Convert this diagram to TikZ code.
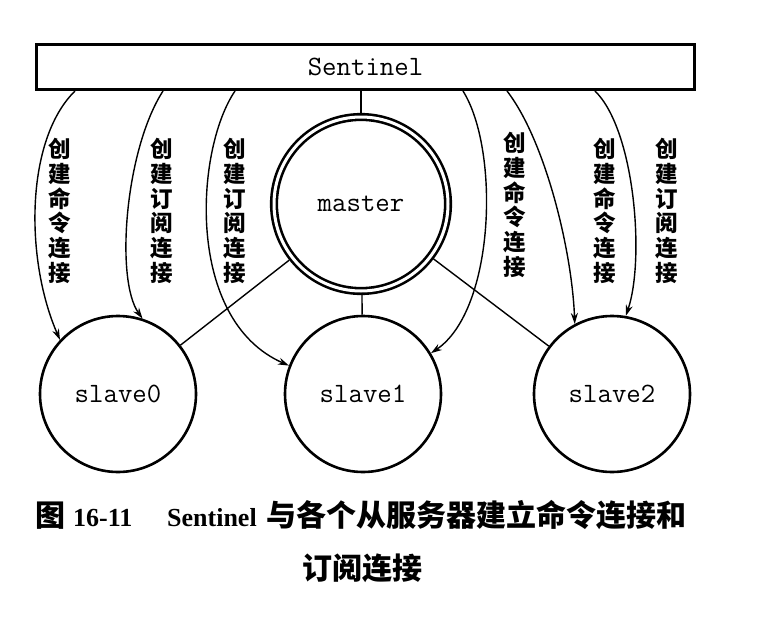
\documentclass[tikz,border=0pt]{standalone}
\usepackage{fontspec}
\newfontfamily\cjk{Noto Sans CJK SC}
\newfontfamily\capserif{Liberation Serif}
\usetikzlibrary{arrows.meta}
\begin{document}
\begin{tikzpicture}[x=1pt,y=-1pt,
  box/.style={draw, line width=2.6pt, minimum width=658pt, minimum height=45.4pt, inner sep=0pt, font=\ttfamily\fontsize{28}{30}\selectfont},
  slavenode/.style={circle, draw, line width=2.6pt, minimum size=156pt, inner sep=0pt, font=\ttfamily\fontsize{28}{30}\selectfont},
  masternode/.style={circle, draw, line width=2.6pt, double, double distance=3pt, minimum size=174pt, inner sep=0pt, outer sep=4.1pt, font=\ttfamily\fontsize{28}{30}\selectfont},
  link/.style={line width=1.4pt},
  conn/.style={line width=1.4pt, -{Stealth[length=11pt,width=7pt]}},
  lbl/.style={font=\cjk\bfseries\fontsize{22.5}{24.7}\selectfont, align=center, inner sep=0pt},
  capcjk/.style={font=\cjk\bfseries\fontsize{30}{32}\selectfont, inner sep=0pt},
  caplat/.style={font=\capserif\bfseries\fontsize{26}{28}\selectfont, inner sep=0pt},
]
\useasboundingbox (0,0) rectangle (764,640);

\node[box] (sentinel) at (365.5,67) {Sentinel};
\node[masternode] (master) at (361,204) {master};
\node[slavenode] (slave0) at (118,394) {slave0};
\node[slavenode] (slave1) at (363,394) {slave1};
\node[slavenode] (slave2) at (612,394) {slave2};

\draw[link] (master.north) -- (master.north |- sentinel.south);
\draw[link] (master) -- (slave0);
\draw[link] (master) -- (slave1);
\draw[link] (master) -- (slave2);

\draw[conn] (75,0 |- sentinel.south) .. controls (25,140) and (25,260) .. (slave0.137);
\draw[conn] (163,0 |- sentinel.south) .. controls (125,150) and (115,280) .. (slave0.72);
\draw[conn] (235,0 |- sentinel.south) .. controls (195,150) and (185,320) .. (slave1.159);
\draw[conn] (463,0 |- sentinel.south) .. controls (500,150) and (495,310) .. (slave1.31);
\draw[conn] (507,0 |- sentinel.south) .. controls (545,140) and (572,250) .. (slave2.118);
\draw[conn] (595,0 |- sentinel.south) .. controls (635,130) and (645,260) .. (slave2.80);

\node[lbl] (l1) at (60,211) {创\\建\\命\\令\\连\\接};
\node[lbl] (l2) at (162,211) {创\\建\\订\\阅\\连\\接};
\node[lbl] (l3) at (235,211) {创\\建\\订\\阅\\连\\接};
\node[lbl] (l4) at (515,205) {创\\建\\命\\令\\连\\接};
\node[lbl] (l5) at (605,211) {创\\建\\命\\令\\连\\接};
\node[lbl] (l6) at (667,211) {创\\建\\订\\阅\\连\\接};

\node[capcjk, anchor=base west] (fig) at (35,526) {图};
\node[caplat, anchor=base west] (num) at (73,526) {16-11};
\node[caplat, anchor=base west] (sen) at (167,526) {Sentinel};
\node[capcjk, anchor=base east] (cap1) at (687,526) {与各个从服务器建立命令连接和};
\node[capcjk, anchor=base] (cap2) at (362,579) {订阅连接};
\end{tikzpicture}
\end{document}
